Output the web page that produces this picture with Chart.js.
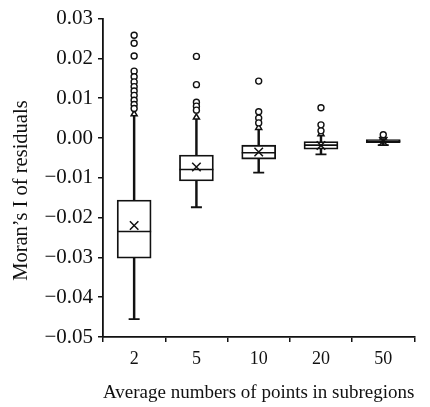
<!DOCTYPE html>
<html>
<head>
<meta charset="utf-8">
<script src="https://cdn.jsdelivr.net/npm/chart.js@4/dist/chart.umd.min.js"></script>
<style>
html,body{margin:0;padding:0;background:#fff;overflow:hidden;}
#wrap{width:433px;height:407px;}
</style>
</head>
<body>
<div id="wrap"><canvas id="c" width="433" height="407"></canvas></div>
<script>
const labels = ['2','5','10','20','50'];
const q1 = [-0.0302, -0.0108, -0.0053, -0.0028, -0.0012];
const q3 = [-0.0156, -0.0043, -0.0018, -0.0009, -0.0004];
const median = [-0.0235, -0.0079, -0.0037, -0.0018, -0.0008];
const mean = [-0.0220, -0.0073, -0.0035, -0.0019, -0.0008];
const whiskerLow = [-0.0455, -0.0174, -0.0087, -0.0041, -0.0018];
const whiskerHigh = [0.0060, 0.0052, 0.0026, 0.0010, 0.0002];
const outliers2 = [0.0258, 0.0238, 0.0206, 0.0168, 0.0154, 0.0141, 0.0129, 0.0118, 0.0107, 0.0095, 0.0084, 0.0074];
const outliers5 = [0.0205, 0.0134, 0.0090, 0.0080, 0.0070];
const outliers10 = [0.0143, 0.0066, 0.0050, 0.0038];
const outliers20 = [0.0076, 0.0033, 0.0018];
const outliers50 = [0.0008];
const yTicks = [0.03, 0.02, 0.01, 0.00, -0.01, -0.02, -0.03, -0.04, -0.05];

const outlierPts = [];
[[outliers2,'2'],[outliers5,'5'],[outliers10,'10'],[outliers20,'20'],[outliers50,'50']].forEach(([arr,l])=>{
  arr.forEach(v=>outlierPts.push({x:l,y:v}));
});
const pts = arr => labels.map((l,i)=>({x:l,y:arr[i]}));
const FONT = '"Liberation Serif", "Times New Roman", serif';
const BLACK = '#111';

new Chart(document.getElementById('c'), {
  type: 'bar',
  data: {
    labels: labels,
    datasets: [
      {type:'bar', data: labels.map((l,i)=>[whiskerLow[i], whiskerHigh[i]]), backgroundColor: BLACK, borderWidth:0, barThickness:1.8, grouped:false, order:5},
      {type:'bar', data: labels.map((l,i)=>[q1[i], q3[i]]), backgroundColor:'#fff', borderColor: BLACK, borderWidth:1.8, borderSkipped:false, barThickness:34, grouped:false, order:4},
      {type:'line', showLine:false, data: pts(median), pointStyle:'line', pointRadius:17, borderColor:BLACK, borderWidth:1.6, order:3},
      {type:'line', showLine:false, data: pts(whiskerLow), pointStyle:'line', pointRadius:5.5, borderColor:BLACK, borderWidth:1.8, order:3},
      {type:'line', showLine:false, data: pts(whiskerHigh), pointStyle:'triangle', pointRadius:3.5, backgroundColor:'#fff', borderColor:BLACK, borderWidth:1.5, order:2},
      {type:'line', showLine:false, data: pts(mean), pointStyle:'crossRot', pointRadius:6, borderColor:BLACK, borderWidth:1.5, order:1},
      {type:'line', showLine:false, data: outlierPts, pointStyle:'circle', pointRadius:3, backgroundColor:'#fff', borderColor:BLACK, borderWidth:1.4, order:0}
    ]
  },
  options: {
    responsive:false,
    animation:false,
    events:[],
    layout:{padding:{top:17,right:0,left:0,bottom:0}},
    plugins:{legend:{display:false}, tooltip:{enabled:false}},
    scales:{
      x:{
        type:'category',
        offset:true,
        grid:{display:true, drawOnChartArea:false, drawTicks:true, tickLength:5, color:BLACK, lineWidth:1.5, offset:true},
        border:{display:true, color:BLACK, width:1.8},
        ticks:{color:BLACK, font:{family:FONT, size:18}, padding:6, maxRotation:0},
        title:{display:true, text:'Average numbers of points in subregions', color:BLACK, font:{family:FONT, size:19}, padding:{top:0,bottom:3}},
        afterFit: s => { s.height = 70; }
      },
      y:{
        min:-0.05, max:0.03,
        afterBuildTicks: s => { s.ticks = yTicks.map(v=>({value:v})); },
        grid:{display:true, drawOnChartArea:false, drawTicks:true, tickLength:5, color:BLACK, lineWidth:1.5},
        border:{display:true, color:BLACK, width:1.8},
        ticks:{color:BLACK, font:{family:FONT, size:21}, padding:5,
          callback: v => { const s = Math.abs(v).toFixed(2); return (v < -1e-9 ? '\u2212' : '') + s; }},
        title:{display:true, text:'Moran\u2019s I of residuals     ', color:BLACK, font:{family:FONT, size:20.5}, padding:{top:9,bottom:0}},
        afterFit: s => { s.width = 103; }
      }
    }
  }
});
</script>
</body>
</html>
